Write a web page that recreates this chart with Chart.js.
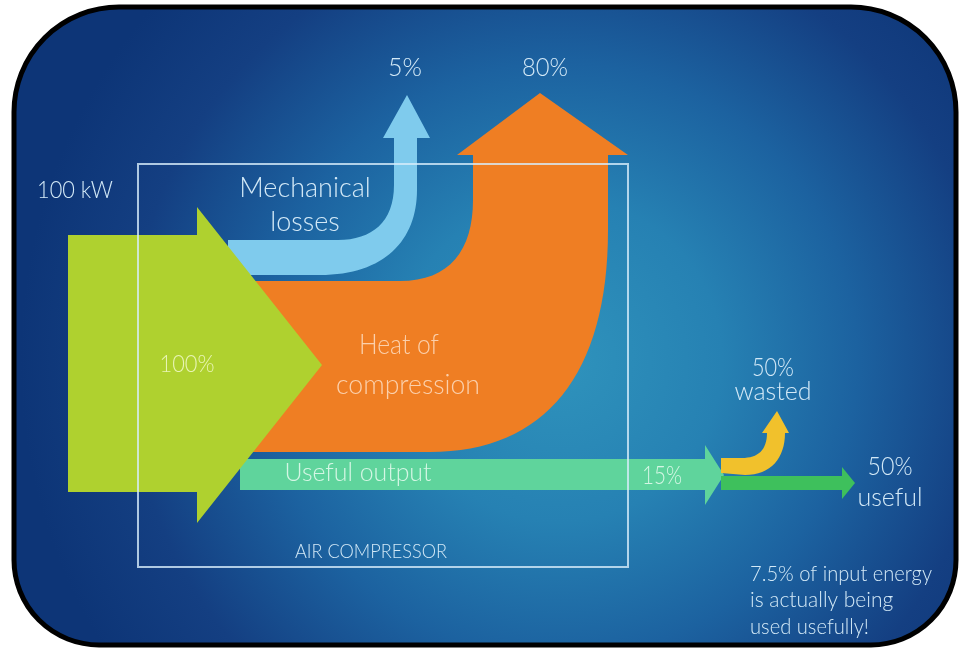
<!DOCTYPE html>
<html>
<head>
<meta charset="utf-8">
<title>Air compressor energy flow</title>
<script src="https://cdn.jsdelivr.net/npm/chart.js@4.4.1/dist/chart.umd.min.js"></script>
<style>
  html, body { margin: 0; padding: 0; background: #fff; }
  canvas { display: block; }
</style>
</head>
<body>
<canvas id="myChart" width="959" height="648"></canvas>
<script>
// energy flows of the compressor, % of the input power
const inputPower = 100; // kW
const flowNames = ["Input", "Mechanical losses", "Heat of compression", "Useful output", "wasted", "useful"];
const flowValues = [100, 5, 80, 15, 50, 50];
const usefulOfInput = 7.5; // % of input energy used usefully

const colors = {
  input: "#afd12f",
  mech: "#7fcbed",
  heat: "#ef7e23",
  output: "#5fd49c",
  wasted: "#f1c12c",
  useful: "#3ec05c",
};

// outline of each band, in diagram units (x 0..959, y 0..648)
// each entry: [cmd, ...points]
const shapes = {
  heat: [
    ["M", 250, 281], ["L", 400, 281], ["C", 450, 281, 473, 250, 473, 200],
    ["L", 473, 155], ["L", 457, 155], ["L", 540, 93], ["L", 628, 155], ["L", 608, 155],
    ["L", 608, 230], ["C", 608, 375, 545, 452, 430, 452], ["L", 250, 452], ["Z"],
  ],
  mech: [
    ["M", 228, 275], ["L", 320, 275], ["C", 385, 275, 417, 240, 417, 190],
    ["L", 417, 138], ["L", 430, 138], ["L", 407, 95], ["L", 383, 138], ["L", 394, 138],
    ["L", 394, 185], ["C", 394, 222, 372, 240, 338, 240], ["L", 228, 240], ["Z"],
  ],
  output: [
    ["M", 240, 459], ["L", 705, 459], ["L", 705, 445], ["L", 724, 475], ["L", 705, 505],
    ["L", 705, 490], ["L", 240, 490], ["Z"],
  ],
  wasted: [
    ["M", 721, 473], ["L", 745, 475], ["C", 771, 475, 785, 458, 785, 433],
    ["L", 789, 433], ["L", 777, 411], ["L", 762, 433], ["L", 767, 433],
    ["C", 767, 450, 758, 458, 742, 458], ["L", 721, 458], ["Z"],
  ],
  useful: [
    ["M", 721, 476], ["L", 842, 476], ["L", 842, 467], ["L", 855, 483], ["L", 842, 499],
    ["L", 842, 490], ["L", 721, 490], ["Z"],
  ],
  input: [
    ["M", 68, 235], ["L", 197, 235], ["L", 197, 207], ["L", 322, 365], ["L", 197, 523],
    ["L", 197, 492], ["L", 68, 492], ["Z"],
  ],
};

const txt = "#d3e9f7";
const labels = [
  { t: `${inputPower} kW`, x: 75, y: 190, size: 24, w: 76 },
  { t: `${flowValues[1]}%`, x: 405, y: 68, size: 25, w: 34 },
  { t: `${flowValues[2]}%`, x: 545, y: 68, size: 25, w: 46 },
  { t: "Mechanical", x: 305, y: 188, size: 27, w: 140 },
  { t: "losses", x: 305, y: 222, size: 27, w: 72 },
  { t: `${flowValues[0]}%`, x: 187, y: 365, size: 23, w: 55, c: "#e8f4b4" },
  { t: "Heat of", x: 399, y: 345, size: 27, w: 80, c: "#fbd0ac" },
  { t: "compression", x: 408, y: 385, size: 27, w: 144, c: "#fbd0ac" },
  { t: "Useful output", x: 358, y: 473, size: 26, w: 147, c: "#d4f6e4" },
  { t: `${flowValues[3]}%`, x: 662, y: 476, size: 25, w: 40, c: "#d4f6e4" },
  { t: `${flowValues[4]}%`, x: 773, y: 368, size: 25, w: 42 },
  { t: flowNames[4], x: 773, y: 392, size: 25, w: 81 },
  { t: `${flowValues[5]}%`, x: 890, y: 467, size: 25, w: 45 },
  { t: flowNames[5], x: 890, y: 498, size: 25, w: 66 },
  { t: "AIR COMPRESSOR", x: 371, y: 552, size: 19, w: 152 },
  { t: `${usefulOfInput}% of input energy`, x: 750, y: 574, size: 21, w: 182, a: "left" },
  { t: "is actually being", x: 750, y: 600, size: 21, w: 147, a: "left" },
  { t: "used usefully!", x: 750, y: 627, size: 21, w: 119, a: "left" },
];

function roundRect(ctx, x, y, w, h, rTop, rBot) {
  ctx.beginPath();
  ctx.moveTo(x + rTop, y);
  ctx.lineTo(x + w - rTop, y);
  ctx.arcTo(x + w, y, x + w, y + rTop, rTop);
  ctx.lineTo(x + w, y + h - rBot);
  ctx.arcTo(x + w, y + h, x + w - rBot, y + h, rBot);
  ctx.lineTo(x + rBot, y + h);
  ctx.arcTo(x, y + h, x, y + h - rBot, rBot);
  ctx.lineTo(x, y + rTop);
  ctx.arcTo(x, y, x + rTop, y, rTop);
  ctx.closePath();
}

const flowDiagram = {
  id: "flowDiagram",
  afterDraw(chart) {
    const ctx = chart.ctx;
    const X = (v) => chart.scales.x.getPixelForValue(v);
    const Y = (v) => chart.scales.y.getPixelForValue(v);

    ctx.save();
    // panel
    roundRect(ctx, X(14), Y(7), X(956) - X(14), Y(645) - Y(7), 105, 85);
    const g = ctx.createRadialGradient(X(560), Y(360), 0, X(560), Y(360), 540);
    g.addColorStop(0, "#2f93bc");
    g.addColorStop(0.3, "#2681b3");
    g.addColorStop(0.55, "#1c62a0");
    g.addColorStop(0.8, "#143f82");
    g.addColorStop(1, "#0d3577");
    ctx.fillStyle = g;
    ctx.fill();
    ctx.lineWidth = 5;
    ctx.strokeStyle = "#000";
    ctx.stroke();

    // flows
    ["heat", "mech", "output", "input", "wasted", "useful"].forEach((k) => {
      ctx.beginPath();
      shapes[k].forEach((s) => {
        const p = s.slice(1);
        if (s[0] === "M") ctx.moveTo(X(p[0]), Y(p[1]));
        else if (s[0] === "L") ctx.lineTo(X(p[0]), Y(p[1]));
        else if (s[0] === "C") ctx.bezierCurveTo(X(p[0]), Y(p[1]), X(p[2]), Y(p[3]), X(p[4]), Y(p[5]));
        else ctx.closePath();
      });
      ctx.fillStyle = colors[k];
      ctx.fill();
    });

    // compressor box
    ctx.strokeStyle = "rgba(215, 236, 250, 0.8)";
    ctx.lineWidth = 2;
    ctx.strokeRect(X(138), Y(164), X(628) - X(138), Y(567) - Y(164));

    // texts
    ctx.textBaseline = "middle";
    labels.forEach((l) => {
      ctx.font = `300 ${l.size}px Lato, "Open Sans", sans-serif`;
      ctx.fillStyle = l.c || txt;
      ctx.textAlign = l.a || "center";
      ctx.fillText(l.t, X(l.x), Y(l.y), l.w);
    });
    ctx.restore();
  },
};

new Chart(document.getElementById("myChart"), {
  type: "scatter",
  data: { datasets: [{ data: [] }] },
  options: {
    responsive: false,
    animation: false,
    layout: { padding: 0 },
    plugins: { legend: { display: false }, tooltip: { enabled: false } },
    scales: {
      x: { type: "linear", min: 0, max: 959, display: false },
      y: { type: "linear", min: 0, max: 648, reverse: true, display: false },
    },
  },
  plugins: [flowDiagram],
});
</script>
</body>
</html>
